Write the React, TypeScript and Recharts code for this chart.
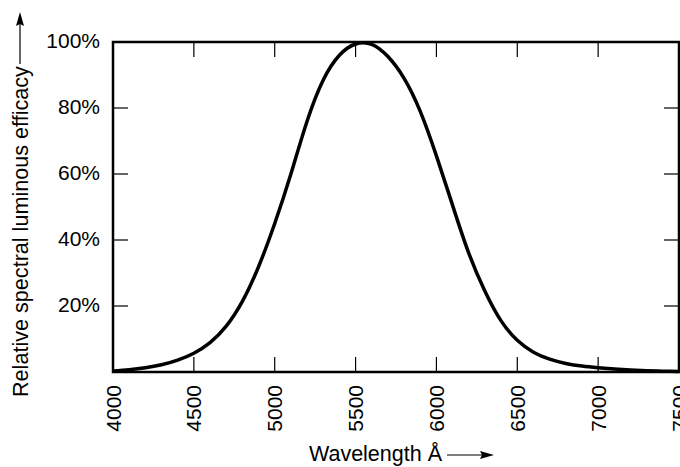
import { LineChart, Line, XAxis, YAxis, ReferenceArea } from "recharts";

// Wavelength samples (Å, evenly spaced) and relative efficacy (%)
const wavelengths = [
  4000, 4100, 4200, 4300, 4400, 4500, 4600, 4700, 4800, 4900, 5000, 5100,
  5200, 5300, 5400, 5500, 5600, 5700, 5800, 5900, 6000, 6100, 6200, 6300,
  6400, 6500, 6600, 6700, 6800, 6900, 7000, 7100, 7200, 7300, 7400, 7500,
];
const efficacy = [
  0.3, 0.7, 1.3, 2.2, 3.6, 5.7, 8.9, 13.9, 21.4, 31.9, 45, 60, 76, 88.5, 96,
  99.4, 99.3, 95.6, 89, 79, 65.5, 50.5, 36, 24.5, 15.5, 9.6, 6, 3.9, 2.6, 1.8,
  1.3, 0.9, 0.6, 0.4, 0.25, 0.12,
];

const xTicks = [4000, 4500, 5000, 5500, 6000, 6500, 7000, 7500];
const yTicks = [0, 20, 40, 60, 80, 100];
const yTickLabels = ["", "20%", "40%", "60%", "80%", "100%"];

const data = wavelengths.map((w, i) => ({ w, v: efficacy[i] }));

// plot frame (from the margins / axis sizes below)
const W = 680;
const H = 467;
const M_TOP = 42;
const M_RIGHT = 1;
const Y_AXIS_W = 113;
const X_AXIS_H = 95;
const PLOT_LEFT = Y_AXIS_W;
const PLOT_RIGHT = W - M_RIGHT;
const PLOT_TOP = M_TOP;
const PLOT_BOTTOM = H - X_AXIS_H;

const FONT = "'Liberation Sans', Arial, Helvetica, sans-serif";
const TICK_LEN = 15;
const TICK_W = 1.2;

function XTick({ x, payload, index }: any) {
  const edge = index === 0 || index === xTicks.length - 1;
  return (
    <g>
      {!edge && (
        <>
          <line x1={x} x2={x} y1={PLOT_BOTTOM} y2={PLOT_BOTTOM - TICK_LEN} stroke="#000" strokeWidth={TICK_W} />
          <line x1={x} x2={x} y1={PLOT_TOP} y2={PLOT_TOP + TICK_LEN} stroke="#000" strokeWidth={TICK_W} />
        </>
      )}
      <text
        transform={`translate(${x},${PLOT_BOTTOM + 13}) rotate(-90)`}
        textAnchor="end"
        dominantBaseline="central"
        fontSize={21}
        fontFamily={FONT}
        fill="#000"
      >
        {payload.value}
      </text>
    </g>
  );
}

function YTick({ y, index }: any) {
  const edge = index === 0 || index === yTicks.length - 1;
  return (
    <g>
      {!edge && (
        <>
          <line x1={PLOT_LEFT} x2={PLOT_LEFT + TICK_LEN} y1={y} y2={y} stroke="#000" strokeWidth={TICK_W} />
          <line x1={PLOT_RIGHT} x2={PLOT_RIGHT - TICK_LEN} y1={y} y2={y} stroke="#000" strokeWidth={TICK_W} />
        </>
      )}
      <text
        x={PLOT_LEFT - 13}
        y={y - 2}
        textAnchor="end"
        dominantBaseline="central"
        fontSize={21}
        fontFamily={FONT}
        fill="#000"
      >
        {yTickLabels[index]}
      </text>
    </g>
  );
}

function XLabel() {
  const cx = (PLOT_LEFT + PLOT_RIGHT) / 2;
  const ty = 454;
  return (
    <g>
      <text
        x={cx + 46}
        y={ty}
        textAnchor="end"
        dominantBaseline="central"
        fontSize={21.5}
        fontFamily={FONT}
        fill="#000"
      >
        Wavelength Å
      </text>
      <line x1={cx + 51} x2={cx + 88} y1={ty + 1} y2={ty + 1} stroke="#000" strokeWidth={1.2} />
      <polygon points={`${cx + 98},${ty + 1} ${cx + 84},${ty - 3} ${cx + 86},${ty + 1} ${cx + 84},${ty + 5}`} fill="#000" />
    </g>
  );
}

function YLabel() {
  const cy = (PLOT_TOP + PLOT_BOTTOM) / 2;
  const tx = 20;
  return (
    <g>
      <text
        transform={`translate(${tx},${cy + 190}) rotate(-90)`}
        textAnchor="start"
        dominantBaseline="central"
        fontSize={21.6}
        fontFamily={FONT}
        fill="#000"
      >
        Relative spectral luminous efficacy
      </text>
      <line x1={tx} x2={tx} y1={cy - 143} y2={cy - 183} stroke="#000" strokeWidth={1.2} />
      <polygon points={`${tx},${cy - 195} ${tx - 4},${cy - 181} ${tx},${cy - 183} ${tx + 4},${cy - 181}`} fill="#000" />
    </g>
  );
}

export default function App() {
  return (
    <div style={{ position: "absolute", left: 0, top: 0, background: "#fff" }}>
      <LineChart
        width={W}
        height={H}
        data={data}
        margin={{ top: M_TOP, right: M_RIGHT, left: 0, bottom: 0 }}
      >
        <XAxis
          dataKey="w"
          type="number"
          domain={[4000, 7500]}
          ticks={xTicks}
          interval={0}
          height={X_AXIS_H}
          tickSize={0}
          tickMargin={0}
          tickLine={false}
          axisLine={false}
          tick={<XTick />}
          label={<XLabel />}
        />
        <YAxis
          type="number"
          domain={[0, 100]}
          ticks={yTicks}
          interval={0}
          width={Y_AXIS_W}
          tickSize={0}
          tickMargin={0}
          tickLine={false}
          axisLine={false}
          tick={<YTick />}
          label={<YLabel />}
        />
        <ReferenceArea
          x1={4000}
          x2={7500}
          y1={0}
          y2={100}
          fill="none"
          fillOpacity={0}
          stroke="#000"
          strokeWidth={2.5}
        />
        <Line
          type="natural"
          dataKey="v"
          stroke="#000"
          strokeWidth={3.5}
          dot={false}
          isAnimationActive={false}
        />
      </LineChart>
    </div>
  );
}
